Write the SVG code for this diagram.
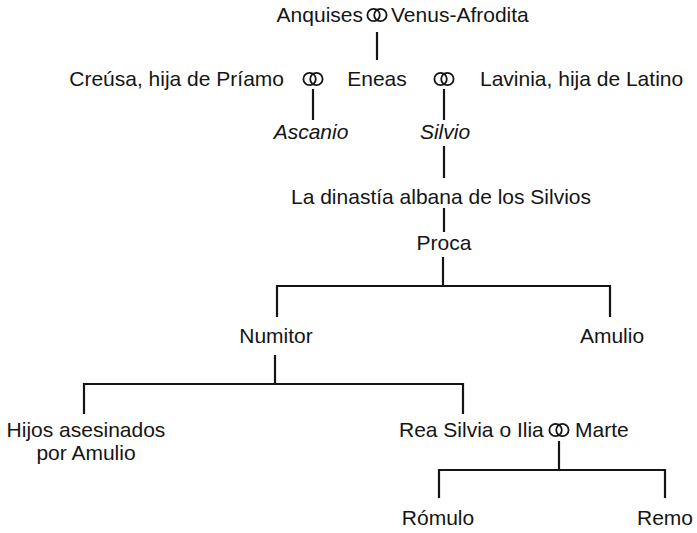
<svg xmlns="http://www.w3.org/2000/svg" width="697" height="533" viewBox="0 0 697 533">
<defs>
<style>
text{font-family:"Liberation Sans",Arial,sans-serif;font-size:21px;fill:#151515}
.it{font-style:italic}
.m{text-anchor:middle}
.e{text-anchor:end}
.c{stroke:#151515;stroke-width:2.2;fill:none}
.r{stroke:#151515;stroke-width:1.8;fill:none}
</style>
<g id="rings"><circle class="r" cx="-3.4" cy="0" r="6.2"/><circle class="r" cx="3.4" cy="0" r="6.2"/></g>
</defs>
<rect width="697" height="533" fill="#fff"/>
<g id="connectors">
<path class="c" d="M377 32V60"/>
<path class="c" d="M313 89V120"/>
<path class="c" d="M444 89V120"/>
<path class="c" d="M444 146V178"/>
<path class="c" d="M444 208V232"/>
<path class="c" d="M443 257V286M277 317V286H610V317"/>
<path class="c" d="M275 355V384M84 414V384H463V414"/>
<path class="c" d="M559 441V470M439 498V470H665V498"/>
</g>
<g id="n-anquises"><text x="363" y="22" class="e">Anquises</text><use href="#rings" x="377" y="15"/><text x="391" y="22">Venus-Afrodita</text></g>
<g id="n-creusa"><text x="284" y="86" class="e">Creúsa, hija de Príamo</text><use href="#rings" x="313" y="79"/></g>
<g id="n-eneas"><text x="377" y="86" class="m">Eneas</text><use href="#rings" x="444" y="79"/></g>
<g id="n-lavinia"><text x="480" y="86">Lavinia, hija de Latino</text></g>
<g id="n-ascanio"><text class="it m" x="311" y="139">Ascanio</text></g>
<g id="n-silvio"><text class="it m" x="445" y="139">Silvio</text></g>
<g id="n-dinastia"><text x="441" y="204" class="m">La dinastía albana de los Silvios</text></g>
<g id="n-proca"><text x="444" y="250" class="m">Proca</text></g>
<g id="n-numitor"><text x="276" y="343" class="m">Numitor</text></g>
<g id="n-amulio"><text x="612" y="343" class="m">Amulio</text></g>
<g id="n-hijos"><text x="86" y="437" class="m">Hijos asesinados</text><text x="86" y="460" class="m">por Amulio</text></g>
<g id="n-rea"><text x="399" y="437">Rea Silvia o Ilia</text><use href="#rings" x="559" y="430"/><text x="575" y="437">Marte</text></g>
<g id="n-romulo"><text x="438" y="525" class="m">Rómulo</text></g>
<g id="n-remo"><text x="665" y="525" class="m">Remo</text></g>
</svg>
